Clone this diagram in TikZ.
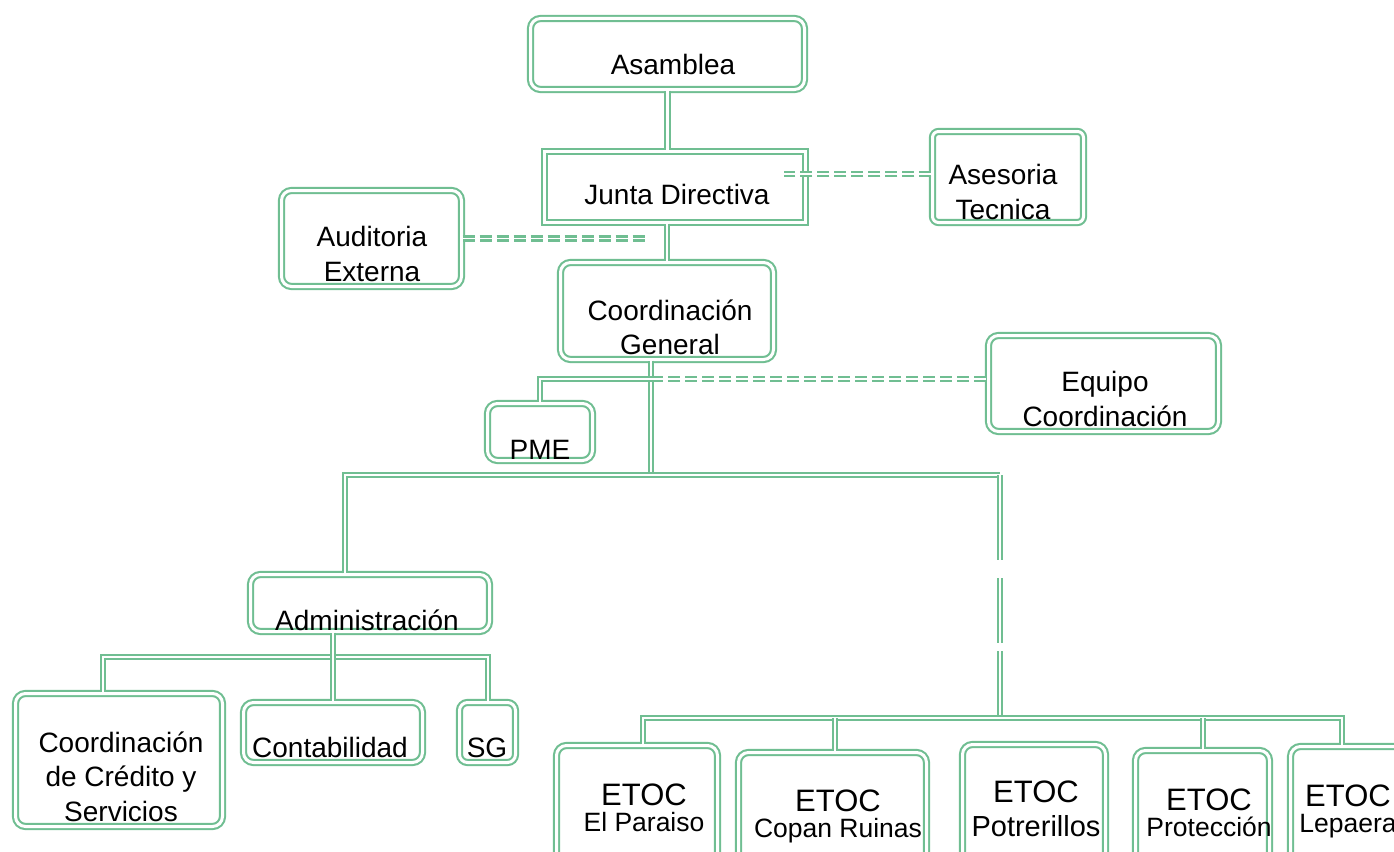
\documentclass[tikz,border=0pt]{standalone}
\usepackage{fontspec}
\setmainfont{Liberation Sans}
\usepackage{tikz}
\usetikzlibrary{positioning}
\definecolor{orggreen}{RGB}{112,190,146}
\newcommand{\subfont}{\fontsize{26.5}{24}\selectfont}

\begin{document}
\begin{tikzpicture}[x=1pt,y=-1pt,
	box/.style={draw=orggreen, double=white, double distance=3pt, line width=2.1pt, rounded corners=10pt, inner sep=0pt},
	link/.style={draw=orggreen, double=white, double distance=2.4pt, line width=2pt},
	dlink/.style={link, double distance=1.4pt, line width=2.6pt, dash pattern=on 12pt off 5pt},
	txt/.style={font=\fontsize{28}{34.5}\selectfont, align=center, inner sep=0pt, anchor=north},
	etoc/.style={font=\fontsize{31}{24}\selectfont, align=center, inner sep=0pt, anchor=north}]
			\useasboundingbox (0,0) rectangle (1394,851);
			% cajas
			\node[box, minimum width=274pt, minimum height=71pt] (asam) at (667.5,54) {};
			\node[box, sharp corners, minimum width=261pt, minimum height=71pt] (junta) at (675,187) {};
			\node[box, rounded corners=6pt, minimum width=151pt, minimum height=91pt] (asesor) at (1008,177) {};
			\node[box, minimum width=180pt, minimum height=96pt] (audit) at (371.5,238.5) {};
			\node[box, minimum width=213pt, minimum height=97pt] (coordg) at (667,311) {};
			\node[box, minimum width=105pt, minimum height=57pt] (pme) at (540,432) {};
			\node[box, minimum width=230pt, minimum height=96pt] (equipo) at (1103.5,383.5) {};
			\node[box, minimum width=239pt, minimum height=57pt] (admin) at (370,603) {};
			\node[box, minimum width=207pt, minimum height=133pt] (ccs) at (119,760) {};
			\node[box, minimum width=179pt, minimum height=60pt] (conta) at (333,732.5) {};
			\node[box, rounded corners=8pt, minimum width=56pt, minimum height=60pt] (sg) at (487.5,732.5) {};
			\node[box, minimum width=161pt, minimum height=151pt] (e1) at (637,821) {};
			\node[box, minimum width=188pt, minimum height=144pt] (e2) at (832.5,824.5) {};
			\node[box, minimum width=143pt, minimum height=152pt] (e3) at (1034,820.5) {};
			\node[box, minimum width=134pt, minimum height=146pt] (e4) at (1202.5,823.5) {};
			\node[box, minimum width=131pt, minimum height=150pt] (e5) at (1356,821.5) {};
			% textos
			\node[txt] (asam-t) at (673,54.5) {Asamblea};
			\node[txt] (junta-t) at (677,184.5) {Junta Directiva};
			\node[txt] (asesor-t) at (1003,164.5) {Asesoria\\Tecnica};
			\node[txt] (audit-t) at (372,226.5) {Auditoria\\Externa};
			\node[txt] (coordg-t) at (670,299.5) {Coordinación\\General};
			\node[txt] (equipo-t) at (1105,371.5) {Equipo\\Coordinación};
			\node[txt] (pme-t) at (540,440.5) {PME};
			\node[txt] (admin-t) at (367,609.5) {Administración};
			\node[txt] (ccs-t) at (121,731.5) {Coordinación\\de Crédito y\\Servicios};
			\node[txt] (conta-t) at (330,737.5) {Contabilidad};
			\node[txt] (sg-t) at (487,737.5) {SG};
			\node[etoc] (e1-t) at (644,783.5) {ETOC\\[2pt]{\subfont El Paraiso}};
			\node[etoc] (e2-t) at (838,789.5) {ETOC\\[2pt]{\subfont Copan Ruinas}};
			\node[etoc] (e3-t) at (1036,780.5) {ETOC\\[10pt]{\fontsize{29}{24}\selectfont Potrerillos}};
			\node[etoc] (e4-t) at (1209,788.5) {ETOC\\[2pt]{\subfont Protección}};
			\node[etoc] (e5-t) at (1348,784.5) {ETOC\\[2pt]{\subfont Lepaera}};
			% lineas
			\coordinate (hubC) at (651,475);
			\coordinate (hubL) at (345,475);
			\coordinate (hubR) at (1000,475);
			\coordinate (pmeJ) at (651,379);
			\coordinate (etJ) at (1000,718);
			\coordinate (etL) at (643,718);
			\coordinate (etR) at (1342,718);
			\coordinate (abL) at (103,657);
			\coordinate (abR) at (488,657);
			\draw[link] (asam.south) -- (asam.south |- junta.north);
			\draw[link] (coordg.north |- junta.south) -- (coordg.north);
			\draw[dlink] (audit.east) -- ++(182,0);
			\draw[dlink] ([yshift=3pt]asesor.west) -- ++(-147,0);
			\draw[link] (coordg.south -| hubC) -- (hubC);
			\draw[link] (pmeJ) -| (pme.north);
			\draw[dlink] (pmeJ) -- (pmeJ -| equipo.west);
			\draw[link] (admin.north -| hubL) -- (hubL) -- (hubR);
			\draw[link, dash pattern=on 85pt off 18pt on 65pt off 8pt on 100pt] (hubR) -- (etJ);
			\draw[link] (e1.north -| etL) -- (etL) -- (etR) -- (e5.north -| etR);
			\foreach \n/\x in {e2/835,e4/1203}
				\draw[link] (\x,718) -- (\n.north -| \x,0);
			\draw[link] (ccs.north -| abL) -- (abL) -- (abR) -- (sg.north -| abR);
			\draw[link] (conta.north |- admin.south) -- (conta.north);
		\end{tikzpicture}
\end{document}
